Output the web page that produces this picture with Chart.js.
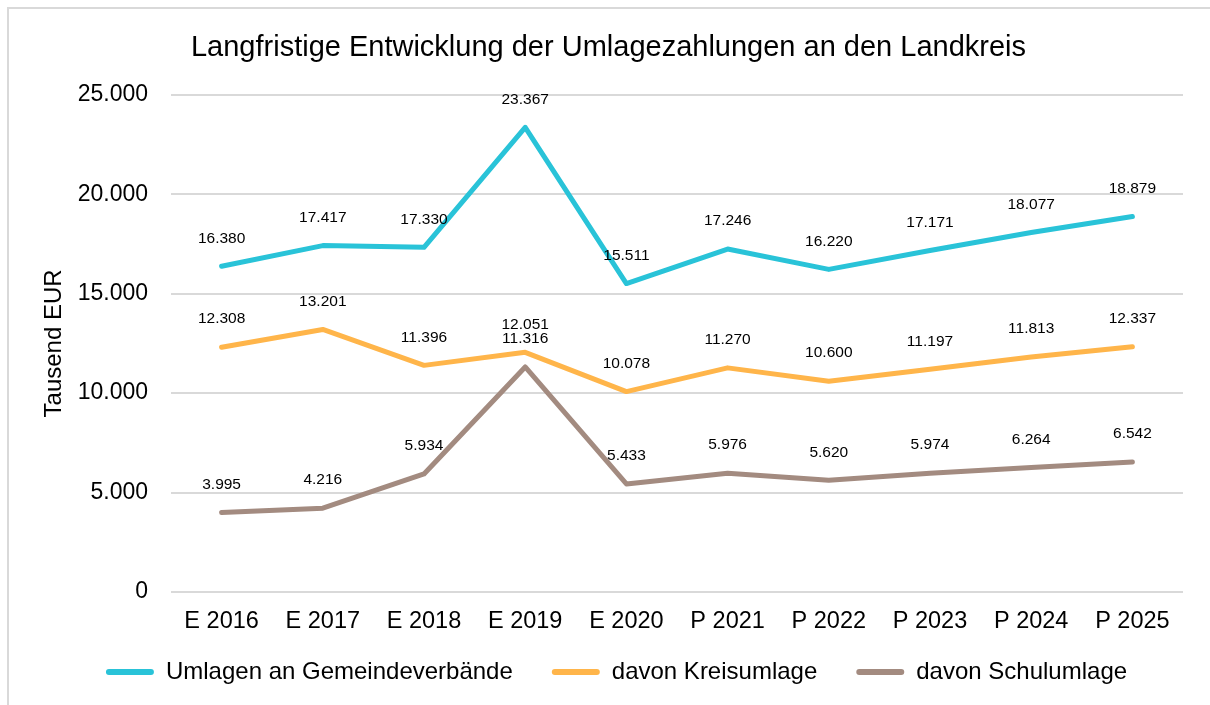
<!DOCTYPE html>
<html lang="de">
<head>
<meta charset="utf-8">
<title>Umlagezahlungen an den Landkreis</title>
<script src="https://cdn.jsdelivr.net/npm/chart.js@4/dist/chart.umd.min.js"></script>
<style>
  html, body { margin: 0; padding: 0; background: #fff; overflow: hidden; }
  #frame {
    position: absolute; left: 7px; top: 7px; width: 1300px; height: 800px;
    border-left: 2px solid #d9d9d9; border-top: 2px solid #d9d9d9;
  }
  #umlageChart { position: absolute; left: 0; top: 0; }
</style>
</head>
<body>
<div id="frame"></div>
<canvas id="umlageChart" width="1210" height="705"></canvas>
<script>
// Jahre (E = Ergebnis, P = Planung)
const categories = ['E 2016', 'E 2017', 'E 2018', 'E 2019', 'E 2020', 'P 2021', 'P 2022', 'P 2023', 'P 2024', 'P 2025'];

// Werte in Tausend EUR
const umlagenGesamt = [16380, 17417, 17330, 23367, 15511, 17246, 16220, 17171, 18077, 18879];
const kreisumlage   = [12308, 13201, 11396, 12051, 10078, 11270, 10600, 11197, 11813, 12337];
const schulumlage   = [3995, 4216, 5934, 11316, 5433, 5976, 5620, 5974, 6264, 6542];

const seriesNames = ['Umlagen an Gemeindeverbände', 'davon Kreisumlage', 'davon Schulumlage'];
const yTicks = [0, 5000, 10000, 15000, 20000, 25000];

const FONT = 'Arial, "Liberation Sans", sans-serif';

function formatDE(v) {
    return String(v).replace(/\B(?=(\d{3})+(?!\d))/g, '.');
}

// Datenbeschriftungen über den Punkten
const valueLabels = {
    id: 'valueLabels',
    afterDatasetsDraw(chart) {
        const ctx = chart.ctx;
        ctx.save();
        ctx.font = '15.5px ' + FONT;
        ctx.fillStyle = '#000';
        ctx.textAlign = 'center';
        ctx.textBaseline = 'middle';
        chart.data.datasets.forEach((ds, i) => {
            const meta = chart.getDatasetMeta(i);
            meta.data.forEach((pt, j) => {
                ctx.fillText(formatDE(ds.data[j]), pt.x, pt.y - 28);
            });
        });
        ctx.restore();
    }
};

// Titel und Legende etwas verschieben (wie im Original)
const nudgeBoxes = {
    id: 'nudgeBoxes',
    afterLayout(chart) {
        const t = chart.titleBlock;
        if (t) { t.left += 17; t.right += 17; }
        const l = chart.legend;
        if (l) { l.left += 25; l.right += 25; l.top -= 11; l.bottom -= 11; }
    }
};

function makeDataset(label, data, color) {
    return {
        label: label,
        data: data,
        borderColor: color,
        backgroundColor: color,
        borderWidth: 5,
        borderJoinStyle: 'round',
        borderCapStyle: 'round',
        pointRadius: 0,
        pointHoverRadius: 0,
        tension: 0,
        fill: false
    };
}

new Chart(document.getElementById('umlageChart').getContext('2d'), {
    type: 'line',
    data: {
        labels: categories,
        datasets: [
            makeDataset(seriesNames[0], umlagenGesamt, '#29C3D8'),
            makeDataset(seriesNames[1], kreisumlage, '#FFB54A'),
            makeDataset(seriesNames[2], schulumlage, '#A38B80')
        ]
    },
    options: {
        responsive: false,
        animation: false,
        devicePixelRatio: 1,
        layout: { padding: { left: 0, right: 27, top: 0, bottom: 0 } },
        plugins: {
            title: {
                display: true,
                text: 'Langfristige Entwicklung der Umlagezahlungen an den Landkreis',
                color: '#000',
                font: { family: FONT, size: 29, weight: 'normal' },
                padding: { top: 31, bottom: 29 }
            },
            legend: {
                position: 'bottom',
                labels: {
                    color: '#000',
                    font: { family: FONT, size: 24 },
                    boxWidth: 48,
                    boxHeight: 6,
                    padding: 39,
                    useBorderRadius: true,
                    generateLabels(chart) {
                        return chart.data.datasets.map((ds, i) => ({
                            text: ds.label,
                            fillStyle: ds.borderColor,
                            strokeStyle: ds.borderColor,
                            lineWidth: 0,
                            borderRadius: 3,
                            datasetIndex: i
                        }));
                    }
                }
            },
            tooltip: { enabled: false }
        },
        scales: {
            x: {
                offset: true,
                grid: { display: false },
                border: { display: false },
                ticks: {
                    color: '#000',
                    font: { family: FONT, size: 23.5 },
                    padding: 7,
                    maxRotation: 0
                },
                afterFit(scale) { scale.height = 40; }
            },
            y: {
                min: 0,
                max: 25000,
                afterBuildTicks(scale) { scale.ticks = yTicks.map(v => ({ value: v })); },
                grid: { color: '#d9d9d9', lineWidth: 2, drawTicks: false },
                border: { display: false },
                ticks: {
                    color: '#000',
                    font: { family: FONT, size: 23 },
                    padding: 23,
                    callback: v => formatDE(v)
                },
                title: {
                    display: true,
                    text: 'Tausend EUR',
                    color: '#000',
                    font: { family: FONT, size: 24 },
                    padding: { top: 40, bottom: 0 }
                },
                afterFit(scale) { scale.width = 171; }
            }
        }
    },
    plugins: [valueLabels, nudgeBoxes]
});
</script>
</body>
</html>
